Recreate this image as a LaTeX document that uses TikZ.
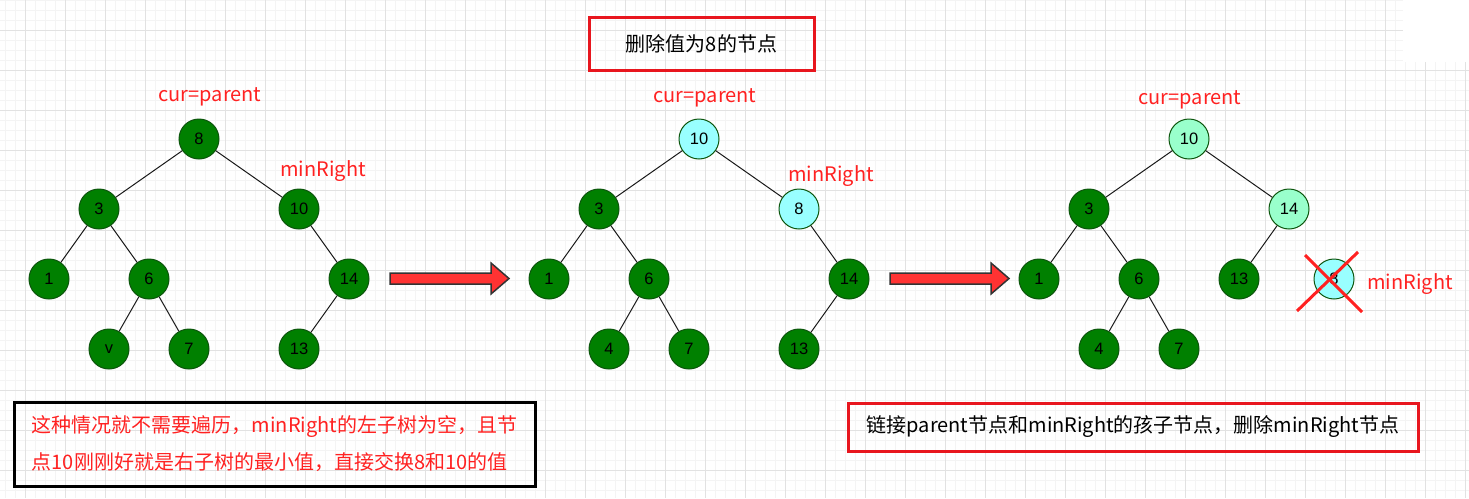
\documentclass[tikz,border=0pt]{standalone}
\usepackage{fontspec}
\setmainfont{Liberation Sans}
\newfontfamily\cjk{Noto Sans CJK SC}
\usetikzlibrary{positioning}
\definecolor{gridmajor}{HTML}{E2E2E2}
\definecolor{gridminor}{HTML}{F4F4F4}
\definecolor{leaf}{HTML}{008000}
\definecolor{leafline}{HTML}{0D550D}
\definecolor{swapfill}{HTML}{99FFFF}
\definecolor{newfill}{HTML}{99FFCC}
\definecolor{mark}{HTML}{FF2121}
\definecolor{boxred}{HTML}{E8161E}
\definecolor{arrfill}{HTML}{FF3333}
\definecolor{arrline}{HTML}{333333}
\tikzset{
  tnode/.style={circle,draw=leafline,fill=leaf,line width=1pt,minimum size=40,
    inner sep=0pt,font=\fontsize{16.5}{16.5}\selectfont},
  swapnode/.style={tnode,fill=swapfill},
  newnode/.style={tnode,fill=newfill},
  edge/.style={draw=black!90,line width=1pt},
  lbl/.style={text=mark,font=\cjk\fontsize{20}{24}\selectfont,inner sep=0pt},
  redbox/.style={draw=boxred,line width=3pt,inner sep=0pt,align=center,
    font=\cjk\fontsize{20}{24}\selectfont},
  notebox/.style={draw=black,line width=3pt,inner sep=0pt,align=left,text=mark,
    font=\cjk\fontsize{20}{37}\selectfont},
  bigarrow/.style={fill=arrfill,draw=arrline,line width=1.5pt,line join=miter},
  cross/.style={draw=mark,line width=3pt},
}

\begin{document}
\begin{tikzpicture}[x=1pt,y=-1pt]
  \useasboundingbox (0,0) rectangle (1469,498);
  % grid
  \foreach \x in {5,15,...,1465}{ \draw[gridminor,line width=1pt] (\x,0) -- (\x,498); }
  \foreach \y in {0,10,...,498}{ \draw[gridminor,line width=1pt] (0,\y) -- (1469,\y); }
  \foreach \x in {25,65,...,1465}{ \draw[gridmajor,line width=1pt] (\x,0) -- (\x,498); }
  \foreach \y in {30,70,...,498}{ \draw[gridmajor,line width=1pt] (0,\y) -- (1469,\y); }
  \fill[white] (1403,0) rectangle (1469,62);

  % title
  \node[redbox,minimum width=225,minimum height=53] (title) at (701.5,43.5) {删除值为8的节点};

  % tree before
  \node[tnode] (a8) at (199,139) {8};
  \node[tnode] (a3) at (99,209) {3};
  \node[tnode] (a10) at (299,209) {10};
  \node[tnode] (a1) at (49,279) {1};
  \node[tnode] (a6) at (149,279) {6};
  \node[tnode] (a14) at (349,279) {14};
  \node[tnode] (av) at (109,349) {v};
  \node[tnode] (a7) at (189,349) {7};
  \node[tnode] (a13) at (299,349) {13};
  \node[lbl] (cur1) at (210,97) {cur=parent};
  \node[lbl] (min1) at (323,171) {minRight};

  % tree after swap
  \node[swapnode] (b10) at (699,139) {10};
  \node[tnode] (b3) at (599,209) {3};
  \node[swapnode] (b8) at (799,209) {8};
  \node[tnode] (b1) at (549,279) {1};
  \node[tnode] (b6) at (649,279) {6};
  \node[tnode] (b14) at (849,279) {14};
  \node[tnode] (b4) at (609,349) {4};
  \node[tnode] (b7) at (689,349) {7};
  \node[tnode] (b13) at (799,349) {13};
  \node[lbl] (cur2) at (705,98) {cur=parent};
  \node[lbl] (min2) at (831,176) {minRight};

  % tree after delete
  \node[newnode] (c10) at (1189,139) {10};
  \node[tnode] (c3) at (1089,209) {3};
  \node[newnode] (c14) at (1289,209) {14};
  \node[tnode] (c1) at (1039,279) {1};
  \node[tnode] (c6) at (1139,279) {6};
  \node[tnode] (c13) at (1239,279) {13};
  \node[tnode] (c4) at (1099,349) {4};
  \node[tnode] (c7) at (1179,349) {7};
  \node[swapnode] (c8) at (1334,279) {8};
  \node[lbl] (cur3) at (1190,100) {cur=parent};
  \node[lbl] (min3) at (1410,284) {minRight};
  \draw[cross] ([shift={(-29,-24)}]c8.center) -- ([shift={(28,33)}]c8.center);
  \draw[cross] ([shift={(24,-27)}]c8.center) -- ([shift={(-37,32)}]c8.center);

  \foreach \p/\q in {a8/a3,a8/a10,a3/a1,a3/a6,a6/av,a6/a7,a10/a14,a14/a13,
      b10/b3,b10/b8,b3/b1,b3/b6,b6/b4,b6/b7,b8/b14,b14/b13,
      c10/c3,c10/c14,c3/c1,c3/c6,c6/c4,c6/c7,c14/c13}{
    \draw[edge] (\p) -- (\q);
  }

  % step arrows
  \foreach \dx in {0,500}{
    \draw[bigarrow] (390+\dx,273) -- (491+\dx,273) -- (491+\dx,263) -- (509+\dx,278.5)
      -- (491+\dx,294) -- (491+\dx,284) -- (390+\dx,284) -- cycle;
  }

  % notes
  \node[notebox,minimum width=521,minimum height=84] (note) at (274.5,444)
    {这种情况就不需要遍历，minRight的左子树为空，且节\\点10刚刚好就是右子树的最小值，直接交换8和10的值};
  \node[redbox,minimum width=570,minimum height=48] (link) at (1133,427)
    {链接parent节点和minRight的孩子节点，删除minRight节点};
\end{tikzpicture}
\end{document}
